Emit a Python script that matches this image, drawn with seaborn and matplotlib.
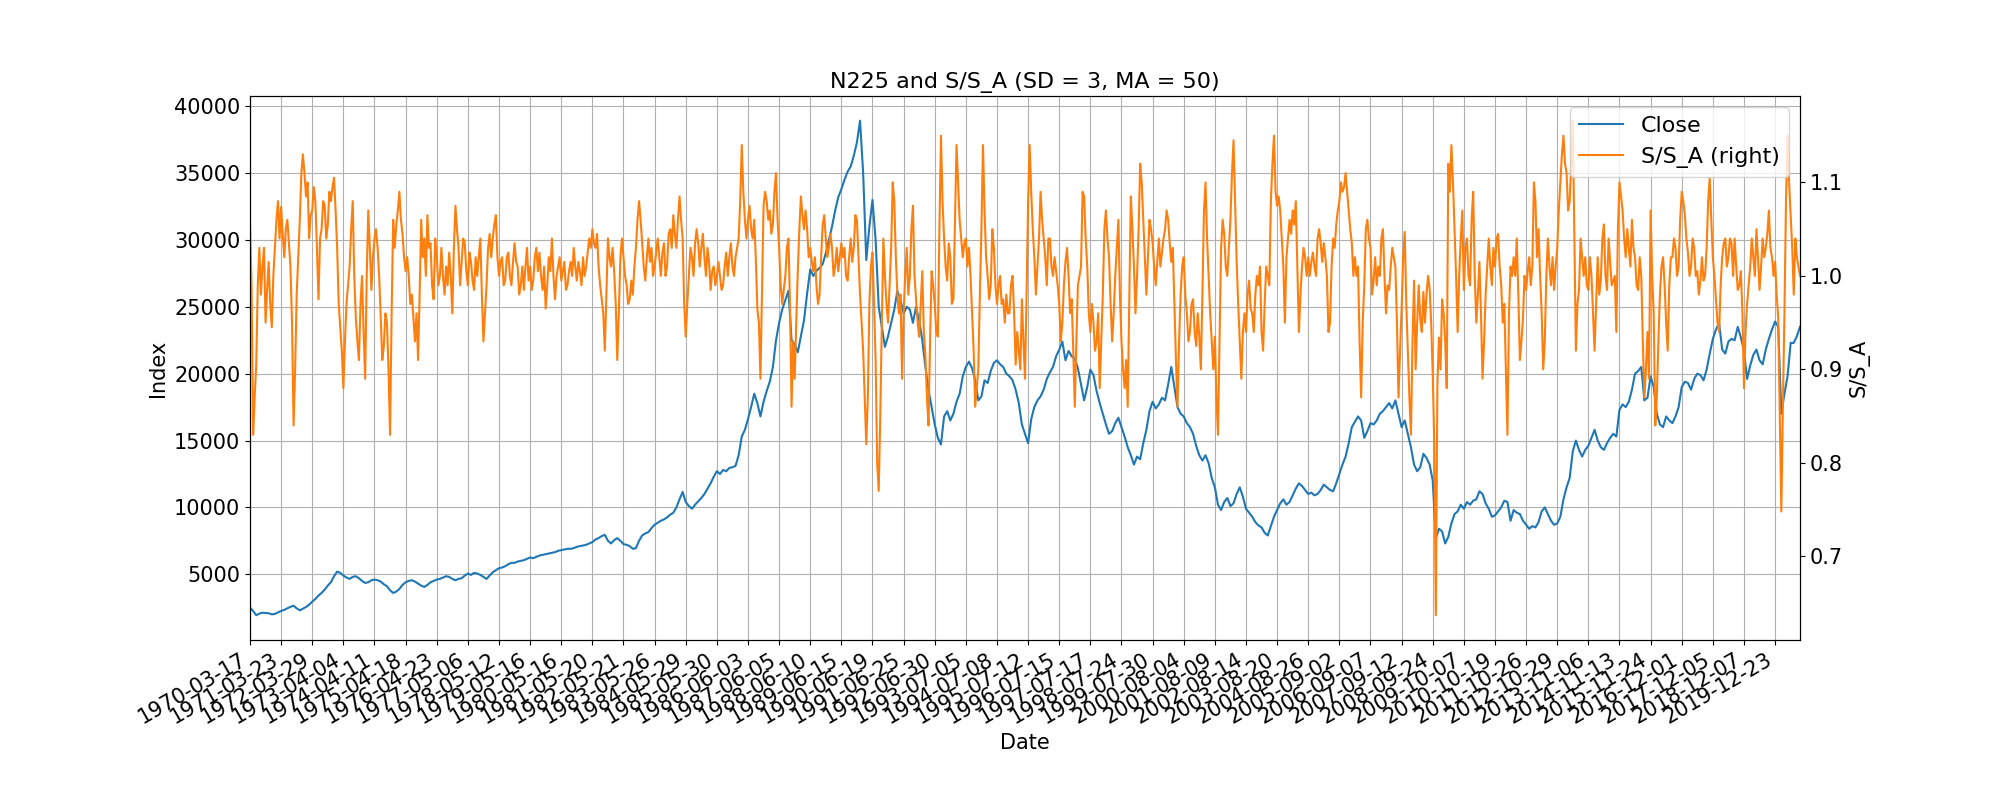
import numpy as np
import pandas as pd
import matplotlib
matplotlib.use('Agg')
import matplotlib.pyplot as plt
import seaborn as sns

# x axis is the row number of the daily table, a label every 250 rows
TICK_EVERY = 250
CLOSE_EVERY = 25
RATIO_EVERY = 12.5

tick_labels = [
    '1970-03-17', '1971-03-23', '1972-03-29', '1973-04-04', '1974-04-11',
    '1975-04-18', '1976-04-23', '1977-05-06', '1978-05-12', '1979-05-16',
    '1980-05-16', '1981-05-20', '1982-05-21', '1983-05-26', '1984-05-29',
    '1985-05-30', '1986-06-03', '1987-06-05', '1988-06-10', '1989-06-15',
    '1990-06-19', '1991-06-25', '1992-06-30', '1993-07-05', '1994-07-08',
    '1995-07-12', '1996-07-15', '1997-07-17', '1998-07-24', '1999-07-30',
    '2000-08-04', '2001-08-09', '2002-08-14', '2003-08-20', '2004-08-26',
    '2005-09-02', '2006-09-07', '2007-09-12', '2008-09-24', '2009-10-07',
    '2010-10-19', '2011-10-26', '2012-10-29', '2013-11-06', '2014-11-13',
    '2015-11-24', '2016-12-01', '2017-12-05', '2018-12-07', '2019-12-23',
]

# one row of numbers per 250-row tick interval
close = [
    2500, 2250, 1930, 2060, 2120, 2100, 2080, 2000, 2030, 2150,
    2250, 2330, 2450, 2560, 2650, 2450, 2300, 2420, 2550, 2720,
    2950, 3150, 3400, 3600, 3850, 4150, 4400, 4850, 5200, 5100,
    4900, 4750, 4650, 4800, 4850, 4700, 4500, 4350, 4400, 4550,
    4600, 4550, 4450, 4250, 4100, 3800, 3600, 3700, 3900, 4200,
    4400, 4500, 4550, 4450, 4300, 4150, 4050, 4200, 4400, 4500,
    4600, 4650, 4750, 4850, 4800, 4650, 4550, 4650, 4700, 4900,
    5050, 4950, 5100, 5050, 4950, 4800, 4650, 4900, 5150, 5300,
    5450, 5500, 5600, 5750, 5850, 5850, 5950, 6000, 6050, 6150,
    6250, 6200, 6300, 6400, 6450, 6500, 6550, 6600, 6650, 6750,
    6800, 6850, 6900, 6900, 6950, 7050, 7100, 7150, 7200, 7300,
    7400, 7600, 7700, 7850, 7950, 7500, 7300, 7550, 7700, 7500,
    7250, 7200, 7100, 6900, 6950, 7500, 7900, 8050, 8150, 8450,
    8700, 8850, 9000, 9100, 9250, 9450, 9600, 10000, 10600, 11150,
    10400, 10100, 9900, 10200, 10450, 10700, 11000, 11400, 11800, 12300,
    12700, 12500, 12800, 12700, 12950, 13000, 13100, 13900, 15300, 15800,
    16600, 17500, 18500, 17800, 16800, 17900, 18700, 19400, 20500, 22500,
    23800, 24800, 25500, 26200, 22500, 22200, 21600, 22800, 24000, 26000,
    27800, 27300, 27700, 27900, 28200, 29000, 30000, 31000, 32200, 33200,
    33800, 34500, 35100, 35500, 36300, 37300, 38916, 35000, 28500, 31000,
    33000, 30000, 25000, 23500, 22000, 22800, 23800, 24800, 26200, 25500,
    24500, 25000, 24800, 23800, 25000, 24000, 22500, 20500, 18800, 17500,
    16200, 15200, 14700, 16800, 17200, 16500, 17000, 17900, 18500, 19800,
    20500, 20900, 20400, 19500, 18000, 18300, 19500, 19300, 20200, 20800,
    21000, 20700, 20500, 20000, 19800, 19500, 18800, 17800, 16200, 15500,
    14800, 16600, 17500, 18000, 18300, 18800, 19600, 20100, 20500, 21300,
    21800, 22400, 21000, 21700, 21300, 21100, 20400, 19200, 18000, 19000,
    20300, 19900, 18700, 17800, 17000, 16200, 15500, 15700, 16300, 16700,
    16000, 15300, 14500, 13900, 13200, 13800, 13600, 14800, 15800, 17200,
    17900, 17400, 17700, 18200, 18000, 19200, 20500, 19000, 17500, 17000,
    16800, 16300, 16000, 15500, 14600, 13900, 13500, 13900, 13300, 12200,
    11500, 10200, 9800, 10400, 10700, 10100, 10300, 11000, 11500, 10800,
    9900, 9600, 9300, 8900, 8650, 8500, 8100, 7900, 8600, 9300,
    9800, 10300, 10600, 10200, 10400, 10900, 11400, 11800, 11600, 11300,
    11000, 11100, 10900, 11000, 11300, 11700, 11500, 11300, 11200, 11800,
    12500, 13200, 13800, 14800, 16000, 16400, 16800, 16500, 15200, 15700,
    16300, 16200, 16500, 17000, 17200, 17500, 17800, 17400, 18000, 17000,
    16000, 16500, 15500, 14500, 13200, 12700, 13000, 14000, 13700, 13200,
    12000, 7700, 8400, 8200, 7300, 7800, 8800, 9500, 9700, 10200,
    9900, 10400, 10200, 10500, 10600, 11200, 11000, 10300, 9900, 9300,
    9400, 9700, 10000, 10500, 10400, 9000, 9800, 9600, 9500, 9000,
    8700, 8400, 8600, 8500, 8900, 9700, 10000, 9500, 9000, 8700,
    8800, 9300, 10600, 11500, 12200, 14200, 15000, 14300, 13800, 14300,
    14600, 15200, 15800, 15000, 14500, 14300, 14800, 15200, 15500, 15300,
    17300, 17700, 17500, 17900, 18800, 20000, 20200, 20500, 18000, 18200,
    19800, 19000, 17000, 16200, 16000, 16800, 16500, 16300, 16800, 17500,
    19000, 19400, 19300, 18800, 19600, 20000, 19900, 19500, 20300, 21500,
    22600, 23300, 23800, 21800, 21500, 22400, 22600, 22500, 23500, 22700,
    21700, 19600, 20600, 21400, 21800, 21000, 20700, 21800, 22600, 23300,
    23900, 23500, 17000, 18500, 19800, 22300, 22300, 22800, 23500,
]

ratio = [
    1.057, 0.99, 0.83, 0.87, 0.905, 0.99, 1.03, 0.98, 1.01, 1.03,
    0.95, 0.985, 1.015, 0.97, 0.945, 1.0, 1.03, 1.06, 1.08, 1.04,
    1.074, 1.045, 1.02, 1.05, 1.06, 1.035, 1.01, 0.95, 0.84, 0.90,
    0.98, 1.02, 1.06, 1.11, 1.13, 1.11, 1.085, 1.10, 1.04, 1.065,
    1.07, 1.095, 1.08, 1.03, 0.975, 1.04, 1.05, 1.08, 1.075, 1.04,
    1.055, 1.09, 1.08, 1.095, 1.105, 1.07, 1.03, 0.97, 0.945, 0.92,
    0.88, 0.93, 0.97, 0.99, 1.01, 1.05, 1.08, 1.0, 0.955, 0.93,
    0.91, 0.97, 1.0, 0.94, 0.89, 1.0, 1.07, 1.03, 0.985, 1.02,
    1.04, 1.05, 1.03, 1.0, 0.955, 0.91, 0.925, 0.96, 0.95, 0.90,
    0.83, 0.96, 1.06, 1.03, 1.055, 1.07, 1.09, 1.06, 1.045, 1.02,
    1.005, 1.02, 1.0, 0.97, 0.98, 0.955, 0.93, 0.96, 0.91, 0.98,
    1.06, 1.02, 1.04, 1.0, 1.065, 1.03, 1.035, 0.99, 0.975, 1.04,
    1.02, 0.99, 1.0, 1.03, 1.0, 0.98, 1.01, 0.99, 1.025, 1.0,
    0.96, 1.03, 1.075, 1.05, 1.03, 0.99, 1.015, 1.04, 1.035, 1.005,
    0.99, 1.025, 1.015, 0.995, 0.985, 1.02, 1.0, 1.02, 1.04, 0.98,
    0.93, 0.96, 0.99, 1.03, 1.045, 1.02, 1.04, 1.055, 1.065, 1.02,
    1.0, 1.015, 1.02, 0.99, 0.995, 1.02, 1.025, 1.0, 0.99, 1.015,
    1.035, 1.015, 1.01, 0.98, 0.99, 1.01, 0.985, 1.01, 1.03, 0.995,
    1.01, 0.985, 0.995, 1.02, 1.03, 1.005, 1.025, 1.0, 0.985, 1.01,
    0.965, 0.99, 1.02, 1.005, 1.04, 1.0, 0.975, 1.0, 1.01, 1.02,
    0.995, 1.005, 1.015, 0.985, 0.99, 1.005, 1.015, 1.0, 1.03, 1.01,
    0.995, 1.015, 1.005, 0.99, 1.02, 1.0, 1.01, 1.025, 1.04, 1.03,
    1.05, 1.035, 1.03, 1.045, 1.01, 0.99, 0.975, 0.96, 0.92, 0.98,
    1.04, 1.02, 1.01, 1.03, 1.005, 0.97, 0.91, 0.96, 1.02, 1.04,
    1.02, 1.0, 0.99, 0.97, 0.975, 0.995, 0.98, 1.01, 1.03, 1.06,
    1.08, 1.06, 1.035, 1.01, 0.995, 1.02, 1.04, 1.015, 1.03, 1.0,
    1.01, 1.025, 1.04, 1.02, 1.0, 1.025, 1.035, 1.0, 1.01, 1.045,
    1.05, 1.03, 1.065, 1.045, 1.03, 1.06, 1.085, 1.06, 1.04, 0.97,
    0.935, 0.97, 1.0, 1.03, 1.02, 1.0, 1.035, 1.05, 1.035, 1.01,
    1.03, 1.045, 1.02, 1.0, 1.03, 1.015, 0.985, 1.005, 1.01, 0.99,
    1.0, 1.015, 1.0, 0.985, 0.99, 1.01, 1.025, 1.0, 1.02, 1.035,
    1.01, 1.0, 1.02, 1.03, 1.04, 1.08, 1.14, 1.09, 1.06, 1.04,
    1.06, 1.075, 1.05, 1.04, 1.06, 1.02, 0.965, 0.95, 0.89, 0.98,
    1.075, 1.09, 1.08, 1.06, 1.07, 1.045, 1.055, 1.09, 1.11, 1.06,
    1.03, 0.99, 0.97, 0.985, 1.0, 1.03, 1.04, 0.97, 0.86, 0.93,
    0.89, 0.95, 1.005, 1.05, 1.085, 1.065, 1.05, 1.07, 1.05, 1.02,
    1.03, 1.015, 1.005, 1.02, 0.99, 0.97, 0.98, 1.02, 1.055, 1.065,
    1.04, 1.02, 1.03, 1.045, 1.03, 1.0, 1.01, 1.03, 1.005, 1.02,
    1.035, 1.02, 1.03, 1.0, 0.995, 1.02, 1.04, 1.015, 1.03, 1.065,
    1.06, 1.02, 0.98, 0.95, 0.92, 0.87, 0.82, 0.87, 0.97, 1.01,
    1.025, 0.97, 0.91, 0.80, 0.77, 0.85, 0.95, 1.04, 1.0, 0.97,
    0.95, 0.99, 1.03, 1.1, 1.08, 1.02, 0.98, 0.96, 0.98, 0.89,
    0.96, 1.0, 1.03, 0.98, 1.0, 1.05, 1.075, 1.0, 0.975, 0.95,
    0.935, 0.97, 1.005, 0.94, 0.915, 0.87, 0.84, 0.93, 1.005, 0.99,
    0.97, 0.94, 0.935, 1.05, 1.15, 1.08, 1.04, 1.01, 0.995, 1.035,
    1.02, 0.97, 0.975, 1.06, 1.14, 1.1, 1.06, 1.04, 1.02, 1.035,
    1.04, 1.01, 1.03, 1.0, 0.96, 0.92, 0.86, 0.88, 0.9, 0.98,
    1.05, 1.14, 1.07, 1.02, 1.0, 0.975, 0.99, 1.05, 1.03, 0.99,
    0.97, 0.99, 1.0, 0.97, 0.975, 0.95, 0.98, 0.96, 0.96, 0.99,
    1.0, 0.96, 0.905, 0.94, 0.92, 0.9, 0.975, 0.93, 0.89, 0.98,
    1.08, 1.14, 1.09, 1.05, 1.02, 0.98, 1.01, 1.04, 1.09, 1.06,
    1.04, 1.02, 0.99, 1.04, 1.04, 1.01, 1.0, 1.02, 1.005, 0.99,
    0.97, 0.93, 0.95, 0.99, 1.015, 1.03, 1.0, 0.96, 0.975, 0.92,
    0.86, 0.93, 0.99, 1.0, 1.01, 1.09, 1.085, 1.04, 1.01, 0.96,
    0.94, 0.97, 0.95, 0.92, 0.93, 0.96, 0.88, 0.93, 0.98, 1.05,
    1.07, 1.04, 1.02, 0.97, 0.93, 0.96, 1.0, 1.03, 1.06, 0.98,
    0.93, 0.90, 0.88, 0.91, 0.86, 0.97, 1.085, 1.05, 1.01, 0.96,
    1.0, 1.05, 1.12, 1.1, 1.06, 1.02, 0.98, 1.02, 1.06, 1.05,
    1.035, 1.01, 0.99, 1.015, 1.04, 1.01, 1.025, 1.04, 1.05, 1.07,
    1.06, 1.035, 1.015, 1.03, 0.97, 0.91, 0.86, 0.93, 0.98, 1.01,
    1.02, 0.98, 0.96, 0.93, 0.94, 0.97, 0.975, 0.94, 0.925, 0.96,
    0.935, 0.9, 0.98, 1.07, 1.1, 1.04, 1.0, 0.96, 0.93, 0.90,
    0.935, 0.87, 0.83, 0.93, 1.03, 1.06, 1.045, 1.01, 1.0, 1.03,
    1.06, 1.11, 1.145, 1.08, 1.015, 0.97, 0.93, 0.89, 0.94, 0.96,
    0.94, 0.98, 0.995, 0.965, 0.96, 0.94, 0.98, 1.0, 0.99, 1.01,
    0.94, 0.92, 0.97, 1.01, 1.0, 0.99, 1.08, 1.12, 1.15, 1.09,
    1.075, 1.085, 1.07, 1.04, 1.01, 0.95, 1.02, 1.04, 1.06, 1.045,
    1.07, 1.055, 1.08, 1.01, 0.94, 0.98, 1.01, 1.03, 1.02, 1.0,
    1.02, 1.0, 1.015, 1.025, 1.01, 1.0, 1.04, 1.05, 1.035, 1.015,
    1.035, 1.02, 1.0, 0.94, 0.95, 1.01, 1.04, 1.03, 1.055, 1.07,
    1.08, 1.1, 1.09, 1.095, 1.11, 1.09, 1.07, 1.05, 1.035, 1.0,
    1.02, 1.0, 1.01, 0.93, 0.87, 0.95, 0.99, 1.05, 1.06, 1.04,
    1.03, 0.98, 0.995, 1.02, 0.99, 1.01, 1.0, 1.04, 1.05, 1.0,
    0.96, 0.99, 0.985, 1.01, 1.03, 1.02, 1.01, 0.95, 0.87, 0.92,
    0.965, 1.02, 1.047, 0.97, 0.92, 0.87, 0.83, 0.93, 0.995, 0.9,
    0.95, 0.99, 0.953, 0.94, 0.983, 0.95, 0.98, 1.0, 0.987, 0.95,
    0.895, 0.82, 0.637, 0.885, 0.934, 0.9, 0.975, 0.96, 0.93, 0.88,
    1.12, 1.09, 1.14, 1.1, 1.05, 1.0, 0.94, 1.0, 1.04, 1.07,
    0.985, 1.03, 1.04, 1.0, 0.99, 1.06, 1.09, 1.0, 0.95, 0.98,
    1.015, 0.96, 0.89, 0.93, 0.98, 1.01, 1.04, 1.01, 0.99, 1.03,
    1.01, 1.04, 1.045, 1.01, 0.99, 0.95, 0.97, 0.9, 0.83, 0.96,
    1.01, 1.0, 1.02, 1.0, 1.04, 0.98, 0.91, 0.93, 0.955, 1.0,
    0.985, 1.005, 1.02, 0.99, 1.01, 1.1, 1.08, 1.02, 1.05, 1.0,
    0.96, 0.9, 0.93, 1.0, 1.04, 1.01, 0.99, 1.02, 0.985, 1.01,
    1.03, 1.07, 1.1, 1.13, 1.15, 1.12, 1.11, 1.07, 1.08, 1.12,
    1.166, 1.04, 0.92, 0.97, 0.985, 1.04, 1.02, 1.0, 1.02, 0.99,
    0.985, 1.02, 1.0, 0.96, 0.92, 0.97, 1.02, 0.98, 0.995, 1.04,
    1.055, 1.0, 0.985, 1.04, 1.015, 0.99, 0.995, 1.0, 0.94, 1.05,
    1.1, 1.085, 1.07, 1.04, 1.02, 1.05, 1.03, 1.01, 1.06, 1.03,
    1.02, 0.99, 0.985, 1.02, 1.0, 0.93, 0.87, 0.9, 0.94, 0.89,
    1.07, 1.0, 0.96, 0.84, 0.87, 0.93, 0.98, 1.01, 1.02, 0.99,
    0.95, 0.92, 0.99, 1.02, 1.02, 1.04, 1.03, 1.0, 1.01, 1.06,
    1.09, 1.08, 1.065, 1.04, 1.025, 1.0, 1.01, 1.04, 1.03, 1.0,
    1.005, 0.98, 0.995, 1.02, 0.995, 1.0, 1.03, 1.08, 1.105, 1.06,
    1.02, 1.0, 0.975, 0.95, 0.94, 0.99, 1.02, 1.035, 1.04, 1.01,
    1.02, 1.04, 1.035, 1.0, 1.04, 1.01, 0.985, 0.99, 1.005, 0.96,
    0.88, 0.94, 0.97, 0.99, 1.01, 1.04, 1.02, 1.0, 1.05, 1.02,
    0.985, 1.01, 1.04, 1.02, 1.03, 1.045, 1.07, 1.03, 1.02, 1.0,
    1.015, 0.98, 0.955, 0.85, 0.748, 0.86, 0.96, 1.08, 1.15, 1.1,
    1.065, 1.03, 0.98, 1.04, 1.02, 1.01, 1.0,
]


def main():
    close_df = pd.DataFrame({'row': np.arange(len(close)) * CLOSE_EVERY,
                             'Close': close})
    ratio_df = pd.DataFrame({'row': np.arange(len(ratio)) * RATIO_EVERY,
                             'S/S_A': ratio})

    fig, ax = plt.subplots(figsize=(20, 8), dpi=100)
    fig.subplots_adjust(bottom=0.2)

    sns.lineplot(data=close_df, x='row', y='Close', ax=ax,
                 color='#1f77b4', linewidth=1.5, label='Close')
    ax2 = ax.twinx()
    sns.lineplot(data=ratio_df, x='row', y='S/S_A', ax=ax2,
                 color='#ff7f0e', linewidth=1.5, label='S/S_A (right)')

    ax.set_xlim(0, close_df['row'].max())
    ax.set_xticks(np.arange(len(tick_labels)) * TICK_EVERY)
    ax.set_xticklabels(tick_labels)
    plt.setp(ax.get_xticklabels(), rotation=30, ha='right')
    ax.grid(True)

    ax.tick_params(labelsize=15)
    ax2.tick_params(labelsize=15)
    ax.set_xlabel('Date', fontsize=15)
    ax.set_ylabel('Index', fontsize=15)
    ax2.set_ylabel('S/S_A', fontsize=15)
    ax.set_title('N225 and S/S_A (SD = 3, MA = 50)', fontsize=16)

    # one legend for both lines, on the right axis
    h1, l1 = ax.get_legend_handles_labels()
    h2, l2 = ax2.get_legend_handles_labels()
    ax.get_legend().remove()
    ax2.legend(h1 + h2, l1 + l2, loc='upper right', fontsize=16)

    fig.savefig('out.png')


if __name__ == '__main__':
    main()
